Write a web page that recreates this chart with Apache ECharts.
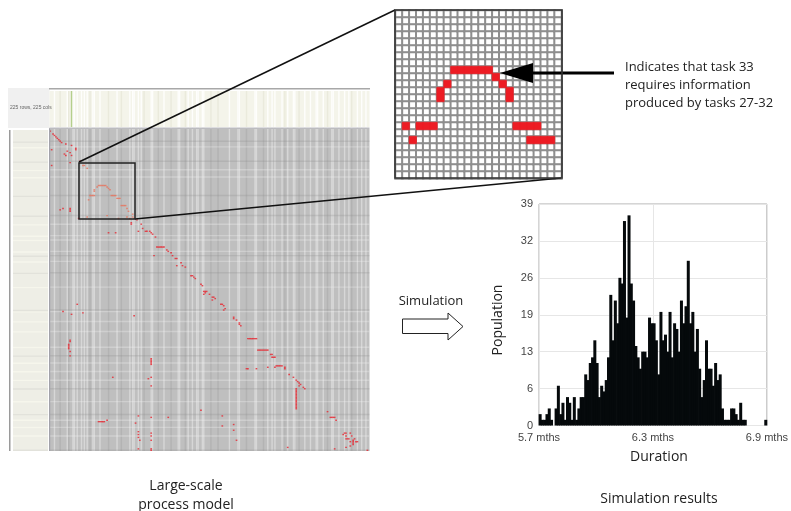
<!DOCTYPE html>
<html><head><meta charset="utf-8">
<style>html,body{margin:0;padding:0;background:#fff}#c{width:791px;height:511px}</style>
<script src="https://cdn.jsdelivr.net/npm/echarts@6/dist/echarts.min.js"></script>
</head><body><div id="c"></div>
<script>
// --- Histogram (100 bins between 5.7 and 6.9 months)
const population = [2,1,1,2,3,1,0,3,7,2,4,1,5,4,1,5,1,3,5,5,9,8,11,12,15,11,5,7,6,8,12,23,15,22,18,26,25,36,19,37,25,22,14,12,10,13,13,12,19,18,18,15,9,20,15,16,13,20,12,18,17,13,22,18,21,29,18,20,13,17,10,5,8,15,10,10,7,11,8,9,3,1,1,1,3,3,2,1,4,1,1,0,0,0,0,0,0,0,0,1];
const durationTicks = {0:'5.7 mths',50:'6.3 mths',100:'6.9 mths'};
const populationTicks = ['0','6','13','19','26','32','39'];
// --- Large-scale matrix (225 tasks): [column,row] of dependency marks
const matrixCells = [[0,1],[2,3],[3,4],[4,5],[5,6],[6,7],[7,8],[8,9],[11,10],[15,11],[18,13],[18,14],[1,14],[12,15],[14,16],[10,17],[11,18],[15,18],[14,23],[1,25],[21,22],[23,25],[24,25],[26,27],
[31,43],[31,42],[33,40],[34,39],[35,39],[36,39],[37,39],[38,39],[39,39],[40,40],[41,41],[42,42],[43,46],[44,46],[45,46],[46,46],[47,48],[48,48],[49,48],[27,49],[28,46],[29,46],[30,46],[31,46],[50,53],[51,53],[52,53],[53,53],[54,55],[55,57],[58,59],
[26,61],[40,60],[20,62],[9,55],[7,56],[14,55],[14,56],[14,57],[48,62],[54,61],[56,62],[58,61],[59,62],[61,63],[57,65],[57,66],[62,71],[64,66],[65,69],[67,71],[68,71],[70,71],[71,72],[72,73],[74,75],[41,72],[46,72],
[75,82],[76,82],[77,82],[78,82],[79,82],[80,82],[82,84],[83,85],[85,86],[86,88],[88,90],[89,90],[73,88],[89,95],[92,93],[93,95],[95,96],
[99,102],[100,102],[101,103],[102,104],[106,108],[107,109],[108,113],[109,113],[110,113],[109,114],[112,115],[108,115],[114,117],[115,117],[116,118],[114,119],[120,122],[121,122],[122,123],[123,125],[122,126],
[129,131],[129,132],[131,133],[133,135],[133,136],[134,137],[139,146],[140,146],[141,146],[142,146],[143,146],[144,146],[145,146],[146,154],[147,154],[148,154],[149,154],[150,154],[151,154],[152,154],[153,154],[155,157],[156,157],[156,159],[157,159],[158,159],
[138,167],[139,167],[145,167],[153,166],[159,165],[160,165],[161,165],[162,165],[163,165],[158,166],[165,166],[165,167],[168,171],[171,173],[173,175],[174,176],[175,177],[176,178],[175,179],[178,180],[179,181],
[173,181],[173,182],[173,183],[173,184],[173,185],[173,186],[173,187],[173,188],[173,189],[173,190],[173,191],[173,192],[173,193],[173,194],[173,195],
[106,196],[121,200],[121,207],[129,206],[129,210],[131,217],[195,197],[197,201],[198,201],[199,201],[200,201],[201,203],[167,222],[200,223],[223,224],
[207,212],[208,212],[206,213],[211,212],[208,214],[212,214],[208,216],[209,216],[210,216],[214,216],[211,218],[213,217],[213,218],[213,219],[213,220],[215,218],[216,218],[211,221],[208,222],
[19,122],[9,127],[15,129],[23,128],[59,130],[14,147],[14,148],[13,150],[13,151],[13,152],[13,153],[14,155],[14,158],[71,160],[71,161],[71,162],[71,163],[71,164],[44,173],[71,173],[69,174],[71,179],
[62,200],[71,201],[83,201],[40,203],[34,204],[35,204],[36,204],[37,204],[38,204],[60,205],[62,211],[62,213],[62,215],[63,217],[71,212],[71,214],[71,217],[62,223],[71,223],[71,224]];
const lightCols = [3,12,16,17,19,22,24,26,30,31,35,47,56,58,59,62,64,71,72,80,90,91,97,100,103,104,107,108,126,132,133,144,145,153,156,158,163,167,171,172,179,183,187,188,192,198,199,203,207,210,216,219,222];
const darkCols = [7,13,28,41,50,66,76,85,95,113,118,138,150,165,175,195,212];
const lightRows = [12,28,33,66,74,77,85,92,110,127,134,141,152,163,169,175,190,203,208,214];
const darkRows = [8,22,46,60,88,100,126,158,181,199,224];
const greenCols = [15];
// --- Zoomed inset (24 x 24 tasks): [column,row] of dependency marks
const insetCells = [[8,8],[9,8],[10,8],[11,8],[12,8],[13,8],[14,9],[7,10],[15,10],[6,11],[6,12],[16,11],[16,12],[1,16],[3,16],[4,16],[5,16],[17,16],[18,16],[19,16],[20,16],[2,18],[19,18],[20,18],[21,18],[22,18]];
const insetSize = 24, matrixSize = 225;

const range = n => Array.from({length:n},(_,i)=>String(i));
const inset0 = [];
for (let c=0;c<insetSize;c++) for (let r=0;r<insetSize;r++) inset0.push([c,r,0]);
const FONT = '"Open Sans"';
const hiddenAxis = (gridIndex,n,extra) => Object.assign({type:'category',gridIndex,data:range(n),show:false},extra||{});

function colStripe(color,opacity){return function(p,api){
  const c=api.coord([api.value(0),0]), s=api.size([1,1]), cs=p.coordSys;
  return {type:'rect',shape:{x:c[0]-s[0]/2,y:cs.y,width:s[0],height:cs.height},style:{fill:color,opacity:opacity},silent:true};
};}
function rowStripe(color,opacity){return function(p,api){
  const c=api.coord([0,api.value(1)]), s=api.size([1,1]), cs=p.coordSys;
  return {type:'rect',shape:{x:cs.x,y:c[1]-s[1]/2,width:cs.width,height:s[1]},style:{fill:color,opacity:opacity},silent:true};
};}
const stripe=(x,y,fn,data)=>({type:'custom',xAxisIndex:x,yAxisIndex:y,renderItem:fn,data:data.map(v=>[v,0]),encode:{x:0},silent:true,animation:false,clip:true});
const stripeR=(x,y,fn,data)=>({type:'custom',xAxisIndex:x,yAxisIndex:y,renderItem:fn,data:data.map(v=>[0,v]),encode:{x:0,y:1},silent:true,animation:false,clip:true});

const T=(x,y,text,extra)=>({type:'text',x,y,z:50,style:Object.assign({text,font:'13px '+FONT,fill:'#222',textAlign:'left',textVerticalAlign:'middle'},extra||{})});
const L=(x1,y1,x2,y2,w,c)=>({type:'line',z:40,shape:{x1,y1,x2,y2},style:{stroke:c||'#111',lineWidth:w}});
const R=(x,y,w,h,fill,z)=>({type:'rect',z:z==null?0:z,shape:{x,y,width:w,height:h},style:{fill}});

const option = {
  animation:false,
  backgroundColor:'#fff',
  grid:[
    {left:49.5,top:129,width:320,height:322,show:true,backgroundColor:'#bfbfbf',borderWidth:0},
    {left:395.5,top:10.5,width:166,height:168,show:false},
    {left:539,top:204,width:232.5,height:221.5,show:true,backgroundColor:'#fff',borderColor:'#aaa',borderWidth:1},
    {left:49.5,top:91,width:320,height:36,show:true,backgroundColor:'#f4f4ea',borderWidth:0},
    {left:13,top:130,width:35,height:321,show:true,backgroundColor:'#eeeee6',borderWidth:0}
  ],
  xAxis:[
    hiddenAxis(0,matrixSize),
    hiddenAxis(1,insetSize),
    {type:'value',gridIndex:2,min:0,max:100,interval:50,
     axisLine:{show:false},axisTick:{show:false},
     splitLine:{show:true,lineStyle:{color:'#e6e6e6'}},
     axisLabel:{margin:7,hideOverlap:false,color:'#444',fontFamily:'Liberation Sans',fontSize:11,formatter:v=>durationTicks[v]}},
    hiddenAxis(3,matrixSize),
    hiddenAxis(4,1)
  ],
  yAxis:[
    hiddenAxis(0,matrixSize,{inverse:true}),
    hiddenAxis(1,insetSize,{inverse:true}),
    {type:'value',gridIndex:2,min:0,max:39,interval:6.5,
     axisLine:{show:false},axisTick:{show:false},
     splitLine:{show:true,lineStyle:{color:'#e6e6e6'}},
     axisLabel:{margin:6,color:'#444',fontFamily:'Liberation Sans',fontSize:11,formatter:(v,i)=>populationTicks[i]}},
    hiddenAxis(3,1),
    hiddenAxis(4,matrixSize,{inverse:true})
  ],
  series:[
    // matrix texture
    stripe(0,0,colStripe('#f4f4f4',0.45),lightCols),
    stripe(0,0,colStripe('#909090',0.25),darkCols),
    stripeR(0,0,rowStripe('#f4f4f4',0.32),lightRows),
    stripeR(0,0,rowStripe('#8a8a8a',0.25),darkRows),
    {type:'scatter',xAxisIndex:0,yAxisIndex:0,data:matrixCells,symbol:'rect',symbolSize:[1.7,1.4],silent:true,clip:false,
     itemStyle:{color:p=>(p.data[0]>=21&&p.data[0]<=60&&p.data[1]>=24&&p.data[1]<=63)?'#e8735c':'#e8242e'}},
    // inset
    {type:'heatmap',xAxisIndex:1,yAxisIndex:1,data:inset0,itemStyle:{color:'#fff',borderColor:'#8e8e8e',borderWidth:2},silent:true},
    {type:'heatmap',xAxisIndex:1,yAxisIndex:1,data:insetCells.map(d=>[d[0],d[1],1]),itemStyle:{color:'#ed1c24',borderColor:'#ed1c24',borderWidth:0.6},silent:true},
    // histogram
    {type:'bar',xAxisIndex:2,yAxisIndex:2,data:population.map((v,i)=>[i+0.5,v]),barWidth:3,itemStyle:{color:'#05090b'},silent:true},
    // side strips
    stripe(3,3,colStripe('#ffffff',0.85),lightCols),
    stripe(3,3,colStripe('#e9e9da',0.9),darkCols),
    stripe(3,3,colStripe('#b5cf8c',1),greenCols),
    stripeR(4,4,rowStripe('#fafaf0',0.65),lightRows),
    stripeR(4,4,rowStripe('#dfdfd8',0.8),darkRows)
  ],
  graphic:[
    R(8,88,41.5,40,'#f0f0f0',-1),
    R(49,88,321,1.5,'#a8a8a8',5),
    R(49,128,1.2,323,'#a2a2aa',5),
    R(9,130,1.5,321,'#9a9a9a',5),
    R(49.5,127.5,320,1.5,'#bcbcc0',5),
    T(10,108,'225 rows, 225 cols',{font:'5px "Liberation Sans"',fill:'#666'}),
    // connectors and box
    L(79,162,395,10,1.5),
    L(135,219,561,178,1.5),
    {type:'rect',z:41,shape:{x:79,y:163,width:56,height:56},style:{fill:'none',stroke:'#222',lineWidth:1.5}},
    {type:'rect',z:41,shape:{x:395,y:10,width:167,height:168},style:{fill:'none',stroke:'#333',lineWidth:1.6}},
    // callout arrow
    L(530,73,614,73,3,'#000'),
    {type:'polygon',z:41,shape:{points:[[500,73],[533,63],[533,83]]},style:{fill:'#000'}},
    T(625,67.5,'Indicates that task 33'),
    T(625,85.5,'requires information'),
    T(625,103.5,'produced by tasks 27-32'),
    // simulation arrow
    {type:'polygon',z:41,shape:{points:[[402.5,319],[448,319],[448,313],[463,326.5],[448,340],[448,333.5],[402.5,333.5]]},style:{fill:'#fff',stroke:'#222',lineWidth:1}},
    T(431,301,'Simulation',{textAlign:'center'}),
    T(186,486,'Large-scale',{textAlign:'center',font:'14px '+FONT}),
    T(186,505,'process model',{textAlign:'center',font:'14px '+FONT}),
    T(659,499,'Simulation results',{textAlign:'center',font:'14px '+FONT}),
    T(659,457,'Duration',{textAlign:'center',font:'14px '+FONT}),
    {type:'text',z:50,x:498,y:320,rotation:Math.PI/2,style:{text:'Population',font:'14px '+FONT,fill:'#222',textAlign:'center',textVerticalAlign:'middle'}}
  ]
};
echarts.init(document.getElementById('c'),null,{renderer:'canvas'}).setOption(option);
</script></body></html>
